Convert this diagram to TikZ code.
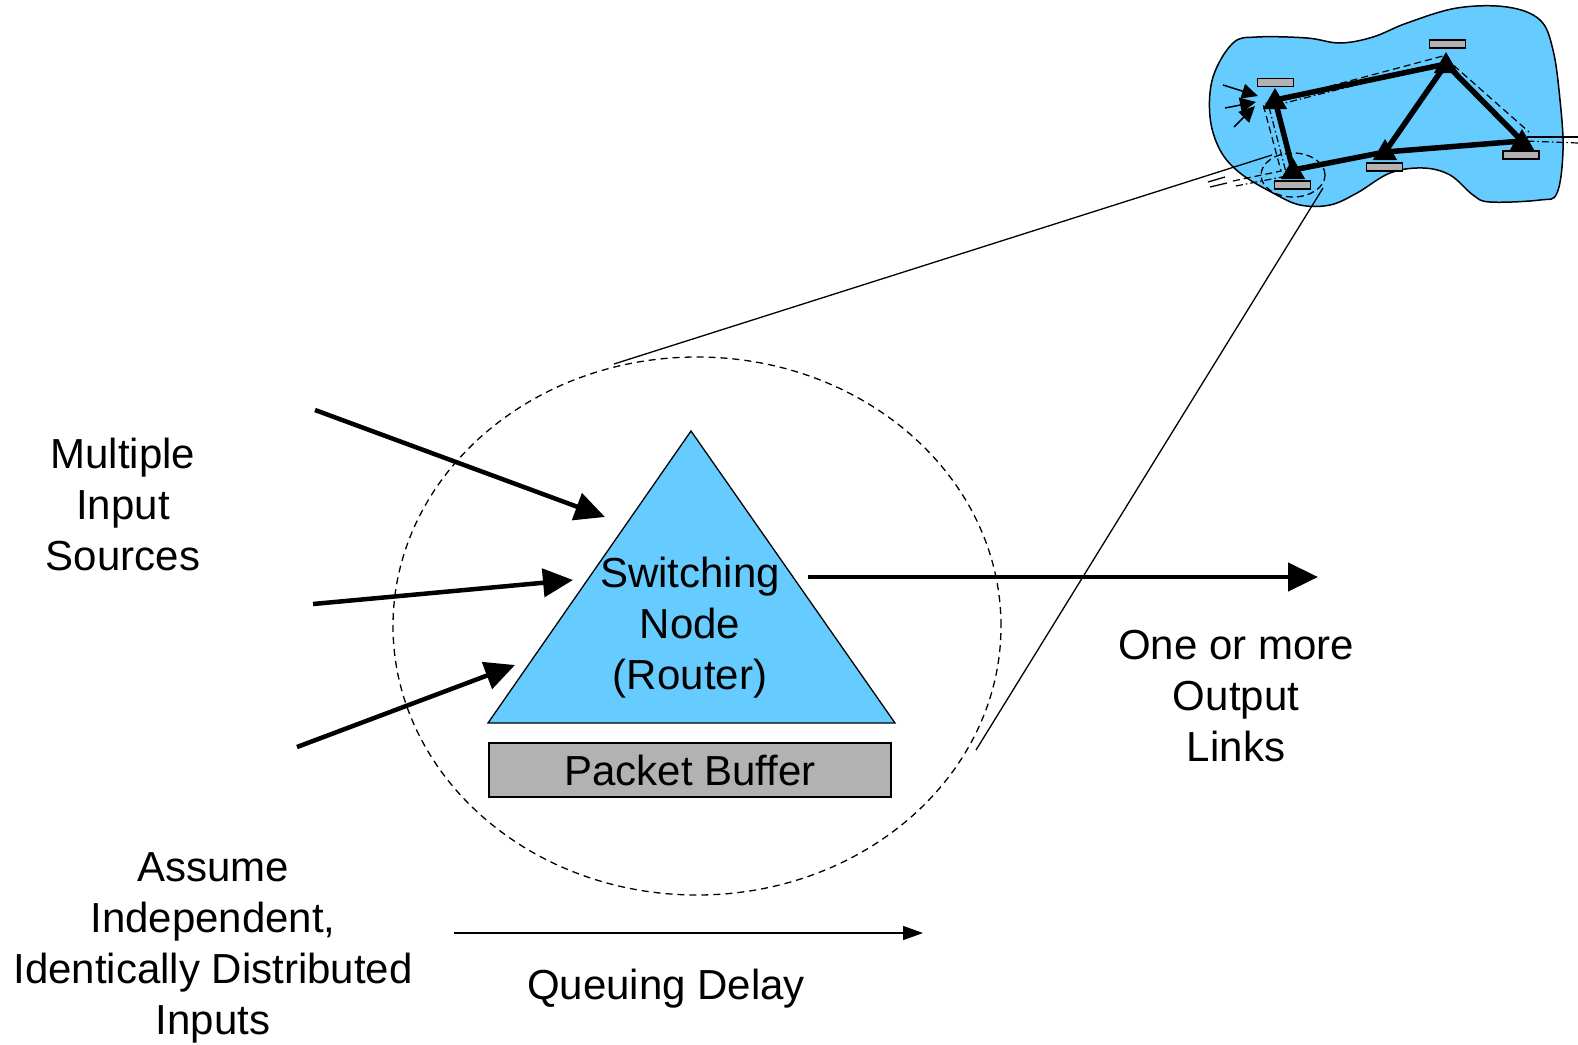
\documentclass[tikz,border=0pt]{standalone}
\usepackage{fontspec}
\setmainfont{Liberation Sans}
\usetikzlibrary{arrows.meta,shapes.geometric}
\definecolor{netblue}{HTML}{66CCFF}
\definecolor{bufgray}{HTML}{B2B2B2}
\begin{document}
\begin{tikzpicture}[x=1pt,y=-1pt,
  lbl/.style={font=\fontsize{42}{51}\selectfont, align=center, inner sep=0pt},
  bigarrow/.style={line width=4.5pt, -{Triangle[length=30pt,width=28pt]}},
  thinarrow/.style={line width=1.5pt, -{Triangle[length=20pt,width=14pt]}},
  zoomline/.style={line width=1.3pt},
  router/.style={regular polygon, regular polygon sides=3, fill=black, minimum size=28pt, inner sep=0pt},
  rbuf/.style={draw=black, fill=bufgray, line width=1.2pt, minimum width=36pt, minimum height=8pt, inner sep=0pt},
  link/.style={line width=5.5pt},
  route/.style={line width=1.2pt, dash pattern=on 7pt off 4pt},
  routeb/.style={line width=1.2pt, dash pattern=on 7pt off 3pt on 1.5pt off 3pt},
  feed/.style={line width=1.5pt, -{Triangle[length=16pt,width=15pt]}},
  ]
\useasboundingbox (0,0) rectangle (1578,1044);

% ---------- network cloud ----------
\draw[line width=1.5pt, fill=netblue] plot[smooth cycle, tension=0.6] coordinates {
  (1233,43) (1257,37) (1307,38) (1340,43) (1373,37) (1407,23) (1457,8)
  (1507,7) (1540,20) (1553,50) (1560,100) (1563,150) (1557,193) (1540,200)
  (1490,202) (1473,195) (1450,175) (1423,168) (1390,173) (1357,193)
  (1330,205) (1300,205) (1273,193) (1240,173) (1220,150) (1210,117) (1213,77)};

% router positions
\coordinate (pA) at (1275,100);
\coordinate (pB) at (1446,64);
\coordinate (pC) at (1522,141);
\coordinate (pD) at (1385,152);
\coordinate (pE) at (1293,170);

% path of the traced connection
\coordinate (r1) at (1233,181);
\coordinate (r2) at (1281,171);
\coordinate (r3) at (1263,104);
\coordinate (r4) at (1443,56);
\coordinate (r5) at (1529,132);
\coordinate (r6) at (1578,143);
\draw[route] (r1) -- (r2) -- (r3) -- (r4) -- (r5);
\coordinate (s1) at (1236,186);
\coordinate (s2) at (1287,176);
\coordinate (s3) at (1269,107);
\coordinate (s4) at (1447,62);
\coordinate (s5) at (1524,141);
\draw[routeb] (s1) -- (s2) -- (s3) -- (s4) -- (s5) -- (r6);
\coordinate (o1) at (1527,137);
\coordinate (o2) at (1578,137);
\draw[line width=1.3pt] (o1) -- (o2);
\coordinate (q1) at (1208,182);
\coordinate (q2) at (1225,177);
\coordinate (q3) at (1210,187);
\coordinate (q4) at (1227,183);
\draw[line width=1.3pt] (q1) -- (q2) (q3) -- (q4);

% links
\draw[link] (pA) -- (pB) -- (pC) -- (pD) -- (pE) -- (pA);
\draw[link] (pD) -- (pB);

% routers and their buffers
\node[router] (rA) at (1275,102) {};
\node[router] (rB) at (1446,66) {};
\node[router] (rC) at (1522,143) {};
\node[router] (rD) at (1385,153) {};
\node[router] (rE) at (1293,172) {};
\node[rbuf] (bA) at (1275.5,82.5) {};
\node[rbuf] (bB) at (1447.5,44) {};
\node[rbuf] (bC) at (1521,155) {};
\node[rbuf] (bD) at (1384.5,167) {};
\node[rbuf] (bE) at (1292.5,185) {};

% traffic arriving at the left router
\coordinate (f1) at (1223,85);
\coordinate (f2) at (1225,108);
\coordinate (f3) at (1234,127);
\coordinate (t1) at (1258,96);
\coordinate (t2) at (1256,102);
\coordinate (t3) at (1255,106);
\draw[feed] (f1) -- (t1);
\draw[feed] (f2) -- (t2);
\draw[feed] (f3) -- (t3);

% highlighted router
\node[draw, ellipse, line width=1.3pt, dash pattern=on 7pt off 4pt,
      minimum width=64pt, minimum height=44pt, inner sep=0pt] (focus) at (1293,175) {};

% ---------- enlarged switching node ----------
\node[draw, ellipse, line width=1.3pt, dash pattern=on 7pt off 5pt,
      minimum width=608pt, minimum height=538pt, inner sep=0pt] (zoomcirc) at (697,626) {};

\coordinate (za) at (614,364);
\coordinate (zb) at (1272,155);
\coordinate (zc) at (976,750);
\coordinate (zd) at (1323,188);
\draw[zoomline] (za) -- (zb);
\draw[zoomline] (zc) -- (zd);

\coordinate (apex) at (691,431);
\coordinate (bl) at (488,723);
\coordinate (br) at (895,723);
\draw[fill=netblue, line width=1.3pt] (apex) -- (br) -- (bl) -- cycle;
\node[lbl] (sw) at (690,628) {Switching\\Node\\(Router)};

\node[lbl, draw, fill=bufgray, line width=1.3pt, minimum width=402pt, minimum height=54pt]
  (buf) at (690,770) {Packet Buffer};

% input sources
\coordinate (i1) at (315,410);
\coordinate (j1) at (605,517);
\coordinate (i2) at (313,604);
\coordinate (j2) at (573,580);
\coordinate (i3) at (297,747);
\coordinate (j3) at (515,665);
\draw[bigarrow] (i1) -- (j1);
\draw[bigarrow] (i2) -- (j2);
\draw[bigarrow] (i3) -- (j3);

% output link
\coordinate (out0) at (808,577);
\coordinate (out1) at (1318,577);
\draw[bigarrow] (out0) -- (out1);

% queuing delay axis
\coordinate (d0) at (454,933);
\coordinate (d1) at (923,933);
\draw[thinarrow] (d0) -- (d1);

% labels
\node[lbl] (src) at (123,504) {Multiple\\Input\\Sources};
\node[lbl] (outl) at (1236,696) {One or more\\Output\\Links};
\node[lbl] (iid) at (213,948) {Assume\\Independent,\\Identically Distributed\\Inputs};
\node[lbl] (qd) at (666,989) {Queuing Delay};
\end{tikzpicture}
\end{document}
